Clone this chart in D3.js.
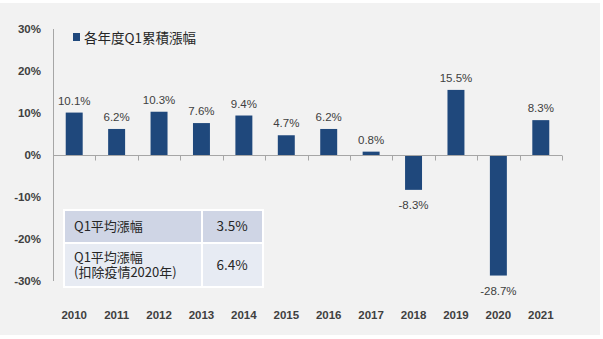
<!DOCTYPE html>
<html>
<head>
<meta charset="utf-8">
<script src="https://cdn.jsdelivr.net/npm/d3@7"></script>
<style>
  body { margin: 0; background: #ffffff; }
  svg { display: block; }
</style>
</head>
<body>
<div id="chart_wrapper"></div>
<script>
// data
const years = ["2010", "2011", "2012", "2013", "2014", "2015", "2016", "2017", "2018", "2019", "2020", "2021"];
const q1Returns = [10.1, 6.2, 10.3, 7.6, 9.4, 4.7, 6.2, 0.8, -8.3, 15.5, -28.7, 8.3];
const yTicks = [-30, -20, -10, 0, 10, 20, 30];
const seriesName = "各年度Q1累積漲幅";
const tableLabels = [["Q1平均漲幅"], ["Q1平均漲幅", "(扣除疫情2020年)"]];
const tableValues = ["3.5%", "6.4%"];

const W = 603, H = 339;
const BAR_COLOR = "#1f487c";
const TEXT_COLOR = "#404040";
const LATIN = "'Liberation Sans', Arial, sans-serif";
const CJK = "'Noto Sans CJK TC', 'Noto Sans', sans-serif";

const svg = d3.select("#chart_wrapper").append("svg")
    .attr("width", W)
    .attr("height", H);

// grey plot background
svg.append("rect")
    .attr("x", 0).attr("y", 3)
    .attr("width", 600).attr("height", 332)
    .attr("fill", "#f2f2f2");

const x = d3.scaleBand()
    .domain(years)
    .range([53, 562])
    .paddingInner(0.6)
    .paddingOuter(0.3);

const y = d3.scaleLinear()
    .domain([-30, 30])
    .range([281, 29]);

// y axis line
svg.append("line")
    .attr("x1", 53.5).attr("x2", 53.5)
    .attr("y1", y(30)).attr("y2", y(-30))
    .attr("stroke", "#a6a6a6").attr("stroke-width", 1);

// y tick labels
svg.selectAll(".ylab")
    .data(yTicks)
    .join("text")
    .attr("class", "ylab")
    .attr("x", 41)
    .attr("y", d => y(d))
    .attr("dy", "0.35em")
    .attr("text-anchor", "end")
    .attr("font-family", LATIN)
    .attr("font-weight", "bold")
    .attr("font-size", 11.5)
    .attr("fill", TEXT_COLOR)
    .text(d => d + "%");

// bars
svg.selectAll(".bar")
    .data(years)
    .join("rect")
    .attr("class", "bar")
    .attr("x", d => x(d))
    .attr("width", x.bandwidth())
    .attr("y", (d, i) => y(Math.max(0, q1Returns[i])))
    .attr("height", (d, i) => Math.abs(y(q1Returns[i]) - y(0)))
    .attr("fill", BAR_COLOR);

// x axis line at 0 and category boundary ticks
const zeroY = Math.round(y(0)) + 0.5;
svg.append("line")
    .attr("x1", x.range()[0]).attr("x2", x.range()[1])
    .attr("y1", zeroY).attr("y2", zeroY)
    .attr("stroke", "#a6a6a6").attr("stroke-width", 1);

const boundaries = years.map(d => x(d) - x.step() * x.paddingOuter()).concat([x.range()[1]]).slice(1);
svg.selectAll(".xtick")
    .data(boundaries)
    .join("line")
    .attr("class", "xtick")
    .attr("x1", d => Math.round(d) + 0.5).attr("x2", d => Math.round(d) + 0.5)
    .attr("y1", zeroY).attr("y2", zeroY + 5)
    .attr("stroke", "#a6a6a6").attr("stroke-width", 1);

// value labels
svg.selectAll(".vlab")
    .data(years)
    .join("text")
    .attr("class", "vlab")
    .attr("x", d => x(d) + x.bandwidth() / 2)
    .attr("y", (d, i) => q1Returns[i] >= 0 ? y(q1Returns[i]) - 8 : y(q1Returns[i]) + 19)
    .attr("text-anchor", "middle")
    .attr("font-family", LATIN)
    .attr("font-size", 11.5)
    .attr("fill", TEXT_COLOR)
    .text((d, i) => q1Returns[i].toFixed(1) + "%");

// year labels
svg.selectAll(".xlab")
    .data(years)
    .join("text")
    .attr("class", "xlab")
    .attr("x", d => x(d) + x.bandwidth() / 2)
    .attr("y", 319)
    .attr("text-anchor", "middle")
    .attr("font-family", LATIN)
    .attr("font-weight", "bold")
    .attr("font-size", 11.5)
    .attr("fill", TEXT_COLOR)
    .text(d => d);

// legend
svg.append("rect")
    .attr("x", 73).attr("y", 33)
    .attr("width", 7).attr("height", 8)
    .attr("fill", BAR_COLOR);
svg.append("text")
    .attr("x", 84).attr("y", 43)
    .attr("font-family", CJK)
    .attr("font-size", 13.5)
    .attr("fill", "#262626")
    .text(seriesName);

// summary table
const table = svg.append("g");
const rowTops = [210, 243];
const rowHeights = [33, 44];
const rowFills = ["#cfd5e5", "#e7ebf3"];
rowTops.forEach((top, i) => {
    table.append("rect")
        .attr("x", 64).attr("y", top)
        .attr("width", 138).attr("height", rowHeights[i])
        .attr("fill", rowFills[i])
        .attr("stroke", "#ffffff").attr("stroke-width", 2);
    table.append("rect")
        .attr("x", 202).attr("y", top)
        .attr("width", 61).attr("height", rowHeights[i])
        .attr("fill", rowFills[i])
        .attr("stroke", "#ffffff").attr("stroke-width", 2);

    const lines = tableLabels[i];
    const mid = top + rowHeights[i] / 2;
    // one text element per cell, lines as tspans
    const label = table.append("text")
        .attr("font-family", CJK)
        .attr("font-size", 13)
        .attr("fill", "#262626");
    lines.forEach((txt, j) => {
        label.append("tspan")
            .attr("x", 74)
            .attr("y", mid + (j - (lines.length - 1) / 2) * 15)
            .attr("dy", "0.36em")
            .text(txt);
    });
    table.append("text")
        .attr("x", 232)
        .attr("y", mid)
        .attr("dy", "0.36em")
        .attr("text-anchor", "middle")
        .attr("font-family", CJK)
        .attr("font-size", 13.5)
        .attr("fill", "#262626")
        .text(tableValues[i]);
});
</script>
</body>
</html>
